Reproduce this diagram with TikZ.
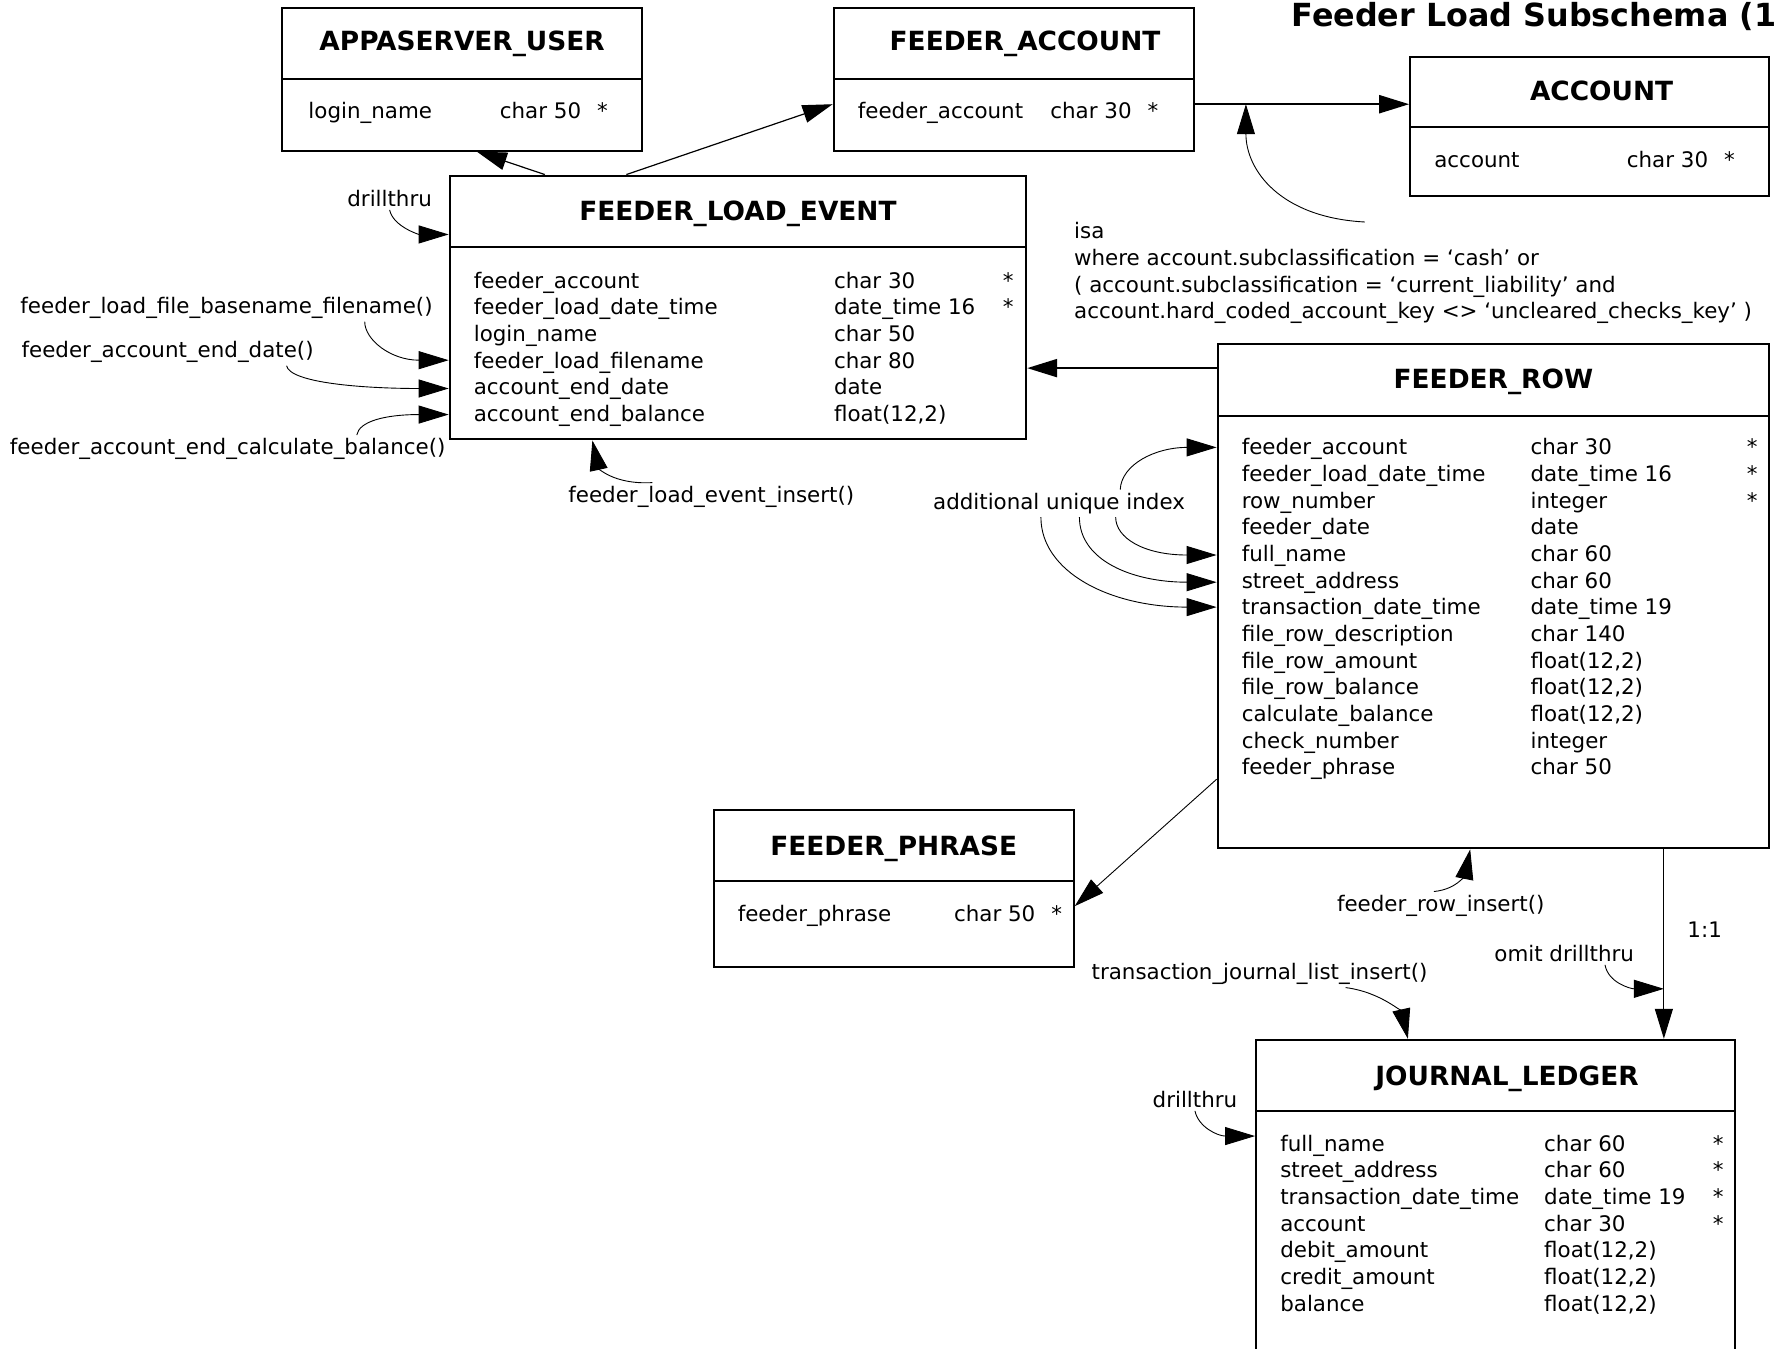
\documentclass[tikz,border=0pt]{standalone}
\usepackage{fontspec}
\setmainfont{DejaVu Sans}
\usetikzlibrary{arrows.meta,fit}

\tikzset{
  tbl/.style={draw, line width=1pt, inner sep=0pt},
  ttl/.style={font=\fontsize{13.2}{15}\selectfont\bfseries, anchor=base, inner sep=0pt},
  fld/.style={font=\fontsize{10.7}{13}\selectfont, anchor=base west, inner sep=0pt},
  lbl/.style={font=\fontsize{10.7}{13.34}\selectfont, inner sep=1.5pt},
  rel/.style={line width=0.6pt, -{Triangle[length=15pt,width=9pt]}},
  relthick/.style={rel, line width=1.1pt},
  note/.style={line width=0.45pt, -{Triangle[length=15pt,width=9pt]}},
}

\begin{document}
\begin{tikzpicture}[x=0.56633pt, y=-0.56633pt]
  \fill[white] (0,0) rectangle (1568,1191);
  \useasboundingbox (0,0) rectangle (1568,1191);

  \node[font=\fontsize{15.9}{19}\selectfont\bfseries, anchor=base west, inner sep=0pt] (maintitle) at (1140,23.8) {Feeder Load Subschema (1};

  % tables
  \node[tbl, fit={(249,7) (567,133)}] (appuser) {};
  \draw[line width=1pt] (249,70) -- (567,70);
  \node[ttl] (appuser-t) at (408,45) {APPASERVER\_USER};
  \node[fld] (appuser-a) at (272,104.5) {login\_name};
  \node[fld] (appuser-b) at (441,104.5) {char 50\hspace{0.75em}*};

  \node[tbl, fit={(736,7) (1054,133)}] (facct) {};
  \draw[line width=1pt] (736,70) -- (1054,70);
  \node[ttl] (facct-t) at (905,45) {FEEDER\_ACCOUNT};
  \node[fld] (facct-a) at (757,104.5) {feeder\_account};
  \node[fld] (facct-b) at (927,104.5) {char 30\hspace{0.75em}*};

  \node[tbl, fit={(1245,50) (1562,173)}] (acct) {};
  \draw[line width=1pt] (1245,112) -- (1562,112);
  \node[ttl] (acct-t) at (1414,89) {ACCOUNT};
  \node[fld] (acct-a) at (1266,147.5) {account};
  \node[fld] (acct-b) at (1436,147.5) {char 30\hspace{0.75em}*};

  \node[tbl, fit={(397,155) (906,388)}] (fle) {};
  \draw[line width=1pt] (397,218) -- (906,218);
  \node[ttl] (fle-t) at (651.5,195) {FEEDER\_LOAD\_EVENT};
  \foreach \fname/\ftype [count=\i from 0] in {feeder\_account/char 30, feeder\_load\_date\_time/date\_time 16, login\_name/char 50, feeder\_load\_filename/char 80, account\_end\_date/date, account\_end\_balance/float(12{,}2)} {
    \node[fld] (fle-a\i) at (418,254.5+23.55*\i) {\fname};
    \node[fld] (fle-b\i) at (736,254.5+23.55*\i) {\ftype};
  }
  \foreach \i in {0,1}
    \node[fld] (fle-k\i) at (885,254.5+23.55*\i) {*};

  \node[tbl, fit={(1075,304) (1562,749)}] (frow) {};
  \draw[line width=1pt] (1075,367) -- (1562,367);
  \node[ttl] (frow-t) at (1318.5,343) {FEEDER\_ROW};
  \foreach \fname/\ftype [count=\i from 0] in {feeder\_account/char 30, feeder\_load\_date\_time/date\_time 16, row\_number/integer, feeder\_date/date, full\_name/char 60, street\_address/char 60, transaction\_date\_time/date\_time 19, file\_row\_description/char 140, file\_row\_amount/float(12{,}2), file\_row\_balance/float(12{,}2), calculate\_balance/float(12{,}2), check\_number/integer, feeder\_phrase/char 50} {
    \node[fld] (frow-a\i) at (1096,401.5+23.55*\i) {\fname};
    \node[fld] (frow-b\i) at (1351,401.5+23.55*\i) {\ftype};
  }
  \foreach \i in {0,1,2}
    \node[fld] (frow-k\i) at (1542,401.5+23.55*\i) {*};

  \node[tbl, fit={(630,715) (948,854)}] (fphrase) {};
  \draw[line width=1pt] (630,778) -- (948,778);
  \node[ttl] (fphrase-t) at (789,755) {FEEDER\_PHRASE};
  \node[fld] (fphrase-a) at (651,813.5) {feeder\_phrase};
  \node[fld] (fphrase-b) at (842,813.5) {char 50\hspace{0.75em}*};

  \node[tbl, fit={(1109,918) (1532,1230)}] (jl) {};
  \draw[line width=1pt] (1109,981) -- (1532,981);
  \node[ttl] (jl-t) at (1330.5,958) {JOURNAL\_LEDGER};
  \foreach \fname/\ftype [count=\i from 0] in {full\_name/char 60, street\_address/char 60, transaction\_date\_time/date\_time 19, account/char 30, debit\_amount/float(12{,}2), credit\_amount/float(12{,}2), balance/float(12{,}2)} {
    \node[fld] (jl-a\i) at (1130,1016.5+23.5*\i) {\fname};
    \node[fld] (jl-b\i) at (1363,1016.5+23.5*\i) {\ftype};
  }
  \foreach \i in {0,...,3}
    \node[fld] (jl-k\i) at (1512,1016.5+23.5*\i) {*};

  % relations
  \draw[rel] (481,0 |- fle.north) -- (421,0 |- appuser.south);
  \draw[rel] (553,0 |- fle.north) -- (facct.west |- 0,92);
  \draw[relthick] (facct.east |- 0,92) -- (acct.west |- 0,92);
  \draw[relthick] (frow.west |- 0,325) -- (fle.east |- 0,325);
  \draw[note] (frow.west |- 0,688) -- (fphrase.east |- 0,800);
  \draw[rel] (1469,0 |- frow.south) -- (1469,0 |- jl.north);
  \coordinate (oneone) at (1469,873);

  % annotations
  \node[lbl, align=left, anchor=north west, inner sep=0pt] (isa) at (948,196) {isa\\where account.subclassification = ‘cash’ or\\( account.subclassification = ‘current\_liability’ and\\account.hard\_coded\_account\_key <> ‘uncleared\_checks\_key’ )};
  \coordinate (isatip) at (1100,92);
  \draw[note] (1205,0 |- isa.north) .. controls (1130,192) and (1100,150) .. (isatip);

  \node[lbl] (dt1) at (344,175) {drillthru};
  \draw[note] (dt1.south) .. controls (347,200) and (370,207) .. (0,207 -| fle.west);

  \node[lbl] (fnm) at (200,271.5) {feeder\_load\_file\_basename\_filename()};
  \draw[note] (322,0 |- fnm.south) .. controls (322,300) and (345,318) .. (0,318 -| fle.west);

  \node[lbl] (fed) at (148,310.5) {feeder\_account\_end\_date()};
  \draw[note] (253,0 |- fed.south) .. controls (256,338) and (320,343) .. (0,343 -| fle.west);

  \node[lbl] (fcb) at (201,396.5) {feeder\_account\_end\_calculate\_balance()};
  \draw[note] (315,0 |- fcb.north) .. controls (317,372) and (340,366) .. (0,366 -| fle.west);

  \node[lbl] (fei) at (628,438.5) {feeder\_load\_event\_insert()};
  \draw[note] (576,0 |- fei.north) .. controls (540,428) and (528,412) .. (523,0 |- fle.south);

  \node[lbl] (aui) at (935,444.5) {additional unique index};
  \draw[note] (989,0 |- aui.north) .. controls (990,410) and (1020,395) .. (0,395 -| frow.west);
  \draw[note] (985,0 |- aui.south) .. controls (985,475) and (1010,490) .. (0,490 -| frow.west);
  \draw[note] (953,0 |- aui.south) .. controls (953,495) and (1000,514) .. (0,514 -| frow.west);
  \draw[note] (919,0 |- aui.south) .. controls (919,505) and (980,536) .. (0,536 -| frow.west);

  \node[lbl] (fri) at (1272,799.5) {feeder\_row\_insert()};
  \draw[note] (1266,0 |- fri.north) .. controls (1288,785) and (1294,770) .. (1298,0 |- frow.south);

  \node[lbl] (one) at (1505,820.5) {1:1};

  \node[lbl] (omit) at (1381,841.5) {omit drillthru};
  \draw[note] (1417,0 |- omit.south) .. controls (1420,868) and (1440,873) .. (oneone);

  \node[lbl] (tji) at (1112,859.5) {transaction\_journal\_list\_insert()};
  \draw[note] (1188,0 |- tji.south) .. controls (1220,876) and (1238,895) .. (1243,0 |- jl.north);

  \node[lbl] (dt2) at (1055,970.5) {drillthru};
  \draw[note] (dt2.south) .. controls (1058,995) and (1075,1003) .. (0,1003 -| jl.west);
\end{tikzpicture}
\end{document}
